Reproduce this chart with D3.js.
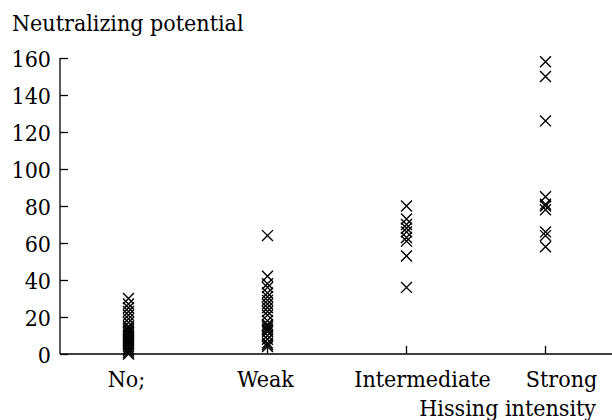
<!DOCTYPE html>
<html>
  <head>
    <meta charset="utf-8">
    <title>Neutralizing potential</title>
    <style media="screen">
      body {margin:0; background:#fff}
    </style>
  </head>
  <body>
    <script src="https://cdn.jsdelivr.net/npm/d3@7"></script>
    <script type="text/javascript">

    const categories = ['No;', 'Weak', 'Intermediate', 'Strong']
    const yTicks = [0, 20, 40, 60, 80, 100, 120, 140, 160]

    const noValues = [30, 27, 25, 23, 21, 19, 17, 15, 14, 13, 12, 11, 10, 9, 8, 7, 6, 5, 4, 3, 2, 1, 0]
    const weakValues = [64, 42, 38, 36, 33, 31, 29, 27, 25, 23, 21, 18, 16, 15, 14, 13, 12, 10, 8, 6, 5, 4]
    const intermediateValues = [80, 73, 70, 68, 66, 63, 61, 53, 36]
    const strongValues = [158, 150, 126, 85, 81, 80, 78, 66, 64, 58]

    const series = [noValues, weakValues, intermediateValues, strongValues]

    const w = 612, h = 420
    const mLeft = 60, mBottom = 354, mTop = 58
    const font = "'DejaVu Serif Condensed', 'DejaVu Serif', serif"
    const fs = 23

    const svg = d3.select('body').append('svg')
      .attr('width', w)
      .attr('height', h)
      .attr('font-family', font)

    const x = d3.scaleBand().domain(categories).range([mLeft - 1, 615])
    const y = d3.scaleLinear().domain([0, 160]).range([mBottom, mTop])

    // y axis, ticks pointing inwards
    const yAxis = svg.append('g')
      .attr('transform', `translate(${mLeft},0)`)
      .call(d3.axisLeft(y).tickValues(yTicks).tickSize(-8).tickPadding(9).tickSizeOuter(0))
    yAxis.attr('font-family', font).attr('font-size', fs)
    yAxis.select('.domain').attr('stroke', '#000').attr('stroke-width', 1.3)
      .attr('d', `M0,${mBottom}V${mTop}`)
    yAxis.selectAll('.tick line').attr('stroke', '#000').attr('stroke-width', 1.3)
    yAxis.selectAll('.tick text').attr('fill', '#000').attr('dy', '0.36em')

    // x axis
    const xAxis = svg.append('g')
      .attr('transform', `translate(0,${mBottom})`)
      .call(d3.axisBottom(x).tickSize(-8).tickPadding(0).tickSizeOuter(0))
    xAxis.attr('font-family', font).attr('font-size', fs)
    xAxis.select('.domain').attr('stroke', '#000').attr('stroke-width', 1.3)
      .attr('d', `M${mLeft},0H${w}`)
    xAxis.selectAll('.tick line').attr('stroke', '#000').attr('stroke-width', 1.3)
    xAxis.selectAll('.tick text')
      .attr('fill', '#000')
      .attr('y', 33)
      .attr('dy', null)
      .attr('dx', (d, i) => i < 2 ? -2 : 16)

    // axis titles
    svg.append('text')
      .attr('x', 12)
      .attr('y', 31)
      .attr('font-size', fs)
      .text('Neutralizing potential')

    svg.append('text')
      .attr('x', 596)
      .attr('y', 416)
      .attr('text-anchor', 'end')
      .attr('font-size', fs)
      .text('Hissing intensity')

    // points
    const symbol = d3.symbol(d3.symbolTimes, 80)
    const points = series.flatMap((vals, i) => vals.map(v => ({cat: categories[i], v})))

    svg.append('g').selectAll('path')
      .data(points)
      .join('path')
      .attr('d', symbol)
      .attr('transform', d => `translate(${x(d.cat) + x.bandwidth() / 2},${y(d.v)})`)
      .attr('fill', 'none')
      .attr('stroke', '#000')
      .attr('stroke-width', 1.4)

    </script>
  </body>
</html>
